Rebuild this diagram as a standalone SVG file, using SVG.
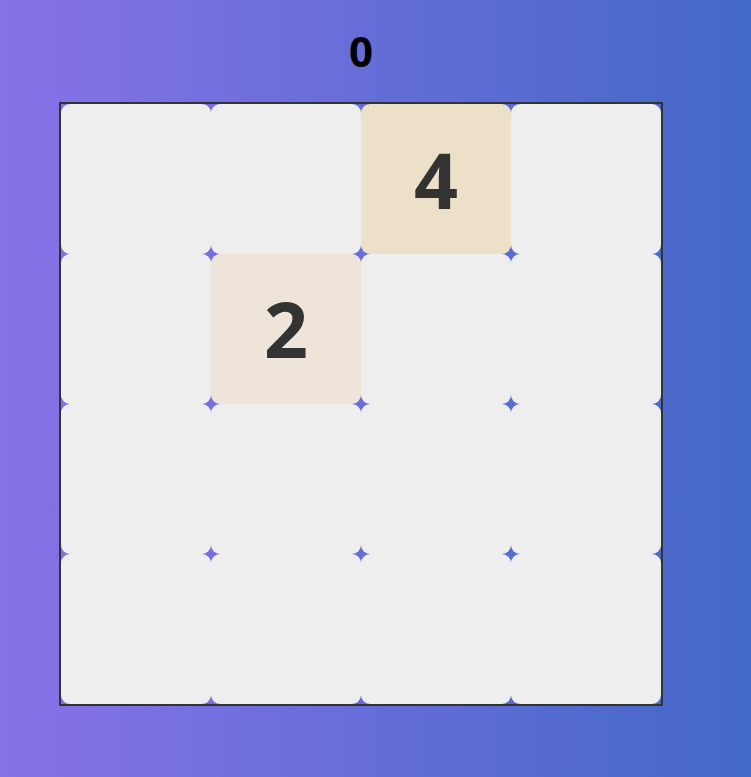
<svg xmlns="http://www.w3.org/2000/svg" width="751" height="777" viewBox="0 0 751 777">
  <defs>
    <linearGradient id="bg" x1="0" y1="0" x2="1" y2="0">
      <stop offset="0" stop-color="#8772e7"/>
      <stop offset="1" stop-color="#4368c8"/>
    </linearGradient>
  </defs>
  <style>
    .cell { fill: #eeeeee; }
    .t2 { fill: #eee4da; }
    .t4 { fill: #ece0c8; }
    .num { font-family: "Open Sans", "Noto Sans", "DejaVu Sans", sans-serif; font-weight: bold; font-size: 77px; fill: #333333; text-anchor: middle; }
    .score { font-family: "Open Sans", "Noto Sans", "DejaVu Sans", sans-serif; font-weight: bold; font-size: 42px; fill: #000000; text-anchor: middle; }
  </style>
  <rect width="751" height="777" fill="url(#bg)"/>
  <text id="score" class="score" x="361" y="67">0</text>
  <g id="board">
    <g id="cell-0-0"><rect class="cell" x="61" y="104" width="150" height="150" rx="9"/></g>
    <g id="cell-0-1"><rect class="cell" x="211" y="104" width="150" height="150" rx="9"/></g>
    <g id="tile-4"><rect class="t4" x="361" y="104" width="150" height="150" rx="9"/><text class="num" x="436" y="209">4</text></g>
    <g id="cell-0-3"><rect class="cell" x="511" y="104" width="150" height="150" rx="9"/></g>
    <g id="cell-1-0"><rect class="cell" x="61" y="254" width="150" height="150" rx="9"/></g>
    <g id="tile-2"><rect class="t2" x="211" y="254" width="150" height="150" rx="9"/><text class="num" x="286" y="358">2</text></g>
    <g id="cell-1-2"><rect class="cell" x="361" y="254" width="150" height="150" rx="9"/></g>
    <g id="cell-1-3"><rect class="cell" x="511" y="254" width="150" height="150" rx="9"/></g>
    <g id="cell-2-0"><rect class="cell" x="61" y="404" width="150" height="150" rx="9"/></g>
    <g id="cell-2-1"><rect class="cell" x="211" y="404" width="150" height="150" rx="9"/></g>
    <g id="cell-2-2"><rect class="cell" x="361" y="404" width="150" height="150" rx="9"/></g>
    <g id="cell-2-3"><rect class="cell" x="511" y="404" width="150" height="150" rx="9"/></g>
    <g id="cell-3-0"><rect class="cell" x="61" y="554" width="150" height="150" rx="9"/></g>
    <g id="cell-3-1"><rect class="cell" x="211" y="554" width="150" height="150" rx="9"/></g>
    <g id="cell-3-2"><rect class="cell" x="361" y="554" width="150" height="150" rx="9"/></g>
    <g id="cell-3-3"><rect class="cell" x="511" y="554" width="150" height="150" rx="9"/></g>
    <rect id="frame" x="60" y="103" width="602" height="602" fill="none" stroke="#333333" stroke-width="2"/>
  </g>
</svg>
